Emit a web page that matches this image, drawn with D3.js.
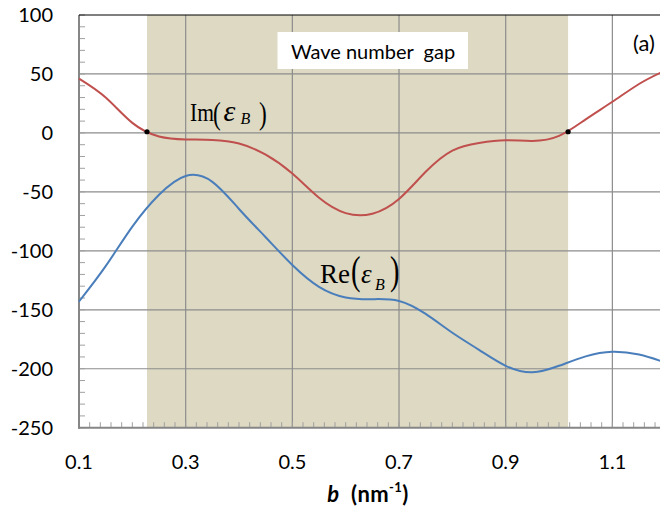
<!DOCTYPE html>
<html>
<head>
<meta charset="utf-8">
<script src="https://cdn.jsdelivr.net/npm/d3@7"></script>
<style>
  body { margin: 0; background: #fff; }
  svg { display: block; }
</style>
</head>
<body>
<svg id="chart" width="660" height="512"></svg>
<script>
// wave number b (nm^-1), sampled every 0.05
const bValues = [0.10, 0.15, 0.20, 0.25, 0.30, 0.35, 0.40, 0.45, 0.50, 0.55, 0.60, 0.65, 0.70, 0.75, 0.80, 0.85, 0.90, 0.95, 1.00, 1.05, 1.10, 1.15, 1.19];
// Im(eps_B)
const imEps = [46, 30, 8.5, -3, -5.5, -6, -9, -18.5, -34.5, -55, -68, -68.5, -56, -33, -15, -8.5, -6.2, -6.8, -2.5, 11.5, 26.4, 41.5, 51];
// Re(eps_B)
const reEps = [-143, -113, -79.5, -52.5, -36.5, -41.5, -64.5, -88.5, -112, -130.5, -139.5, -141, -142.5, -153.5, -169.5, -184, -197.5, -203, -197.5, -189.5, -185.6, -188, -193.3];

// edges of the wave number gap (where Im crosses zero)
const gapEdges = [0.2275, 1.017];
const gapEdgeIm = [1, 1];

const xTicks = [0.1, 0.3, 0.5, 0.7, 0.9, 1.1];
const xTickLabels = ["0.1", "0.3", "0.5", "0.7", "0.9", "1.1"];
const yTicks = [100, 50, 0, -50, -100, -150, -200, -250];
const yTickLabels = ["100", "50", "0", "-50", "-100", "-150", "-200", "-250"];

const svg = d3.select("#chart");
const W = 660, H = 512;
const plotLeft = 79, plotTop = 15, plotBottom = 427.7;

const x = d3.scaleLinear().domain([0.1, 1.2]).range([plotLeft, 665.7]);
const y = d3.scaleLinear().domain([-250, 100]).range([plotBottom, plotTop]);

const sans = "Lato, 'Open Sans', sans-serif";
const serif = "'Liberation Serif', 'DejaVu Serif', serif";

svg.append("rect").attr("width", W).attr("height", H).attr("fill", "#fff");

// shaded gap band
svg.append("rect")
  .attr("x", x(gapEdges[0])).attr("y", plotTop)
  .attr("width", x(gapEdges[1]) - x(gapEdges[0]))
  .attr("height", plotBottom - plotTop)
  .attr("fill", "#DDD9C3");

// major gridlines
const grid = svg.append("g").attr("stroke", "#8c8c8c").attr("stroke-width", 1.2);
grid.selectAll("line.h").data(yTicks.filter(v => v > -250 && v < 100)).join("line")
  .attr("class", "h")
  .attr("x1", plotLeft).attr("x2", W)
  .attr("y1", d => y(d)).attr("y2", d => y(d));
grid.selectAll("line.v").data(xTicks.filter(v => v > 0.1)).join("line")
  .attr("class", "v")
  .attr("y1", plotTop).attr("y2", plotBottom)
  .attr("x1", d => x(d)).attr("x2", d => x(d));

// minor ticks
const minorY = d3.range(-250, 101, 10);
const minorX = d3.range(0, 56).map(i => 0.1 + i * 0.02);
const minor = svg.append("g").attr("stroke", "#a0a0a0").attr("stroke-width", 1);
minor.selectAll("line.my").data(minorY).join("line")
  .attr("class", "my")
  .attr("x1", plotLeft).attr("x2", plotLeft + 6)
  .attr("y1", d => y(d)).attr("y2", d => y(d));
minor.selectAll("line.mx").data(minorX).join("line")
  .attr("class", "mx")
  .attr("y1", plotBottom).attr("y2", plotBottom - 5.5)
  .attr("x1", d => x(d)).attr("x2", d => x(d));

// axis lines and top border
svg.append("line").attr("x1", plotLeft).attr("x2", plotLeft).attr("y1", plotTop).attr("y2", plotBottom + 1)
  .attr("stroke", "#868686").attr("stroke-width", 2);
svg.append("line").attr("x1", plotLeft - 1).attr("x2", W).attr("y1", plotBottom).attr("y2", plotBottom)
  .attr("stroke", "#868686").attr("stroke-width", 2);
svg.append("line").attr("x1", plotLeft).attr("x2", W).attr("y1", plotTop).attr("y2", plotTop)
  .attr("stroke", "#000").attr("stroke-width", 1);

// smooth curves through the sampled values
const line = d3.line().curve(d3.curveNatural);
svg.append("path")
  .attr("d", line(bValues.map((b, i) => [x(b), y(imEps[i])])))
  .attr("fill", "none").attr("stroke", "#C0504D").attr("stroke-width", 2);
svg.append("path")
  .attr("d", line(bValues.map((b, i) => [x(b), y(reEps[i])])))
  .attr("fill", "none").attr("stroke", "#4A7EBB").attr("stroke-width", 2);

// gap edge markers
svg.selectAll("circle.edge").data(gapEdges).join("circle")
  .attr("class", "edge")
  .attr("cx", d => x(d)).attr("cy", (d, i) => y(gapEdgeIm[i]))
  .attr("r", 2.6).attr("fill", "#000");

// tick labels
svg.append("g").selectAll("text").data(yTicks).join("text")
  .attr("x", 53).attr("y", d => y(d)).attr("dy", "0.36em")
  .attr("text-anchor", "end")
  .attr("font-family", sans).attr("font-size", 20).attr("fill", "#000")
  .text((d, i) => yTickLabels[i]);
svg.append("g").selectAll("text").data(xTicks).join("text")
  .attr("x", d => x(d)).attr("y", 469)
  .attr("text-anchor", "middle")
  .attr("font-family", sans).attr("font-size", 20).attr("fill", "#000")
  .text((d, i) => xTickLabels[i]);

// axis title
const title = svg.append("text")
  .attr("x", 368).attr("y", 502)
  .attr("text-anchor", "middle")
  .attr("font-family", sans).attr("font-size", 22).attr("font-weight", "bold").attr("fill", "#000")
  .attr("letter-spacing", 0.4)
  .style("white-space", "pre");
title.append("tspan").attr("font-style", "italic").text("b");
title.append("tspan").text("  (nm");
title.append("tspan").attr("font-size", 13).attr("dy", -10).text("-1");
title.append("tspan").attr("dy", 10).text(")");

// gap label box
svg.append("rect").attr("x", 277.5).attr("y", 32).attr("width", 190.5).attr("height", 37).attr("fill", "#fff");
svg.append("text")
  .attr("x", 373).attr("y", 58.5).attr("text-anchor", "middle")
  .attr("font-family", sans).attr("font-size", 20).attr("fill", "#000")
  .style("white-space", "pre")
  .text("Wave number  gap");

// panel tag
svg.append("text").attr("x", 655).attr("y", 51).attr("text-anchor", "end")
  .attr("font-family", sans).attr("font-size", 22).attr("fill", "#000")
  .text("(a)");

// series labels: Im(eps_B) and Re(eps_B)
function seriesLabel(o) {
  const g = svg.append("g").attr("font-family", serif).attr("fill", "#000");
  g.append("text").attr("transform", `translate(${o.x},${o.base}) scale(${o.nameScale},1)`)
    .attr("font-size", o.nameSize).text(o.name);
  const px = o.parenX;
  g.append("text").attr("transform", `translate(${px},${o.base + o.parenDy}) scale(0.75,1.05)`)
    .attr("font-size", o.parenSize).text("(");
  g.append("text").attr("x", px + o.epsDx).attr("y", o.base).attr("font-size", o.epsSize)
    .attr("font-style", "italic").text("ε");
  g.append("text").attr("x", px + o.subDx).attr("y", o.base + o.subDy).attr("font-size", o.subSize)
    .attr("font-style", "italic").text("B");
  g.append("text").attr("transform", `translate(${px + o.closeDx},${o.base + o.parenDy}) scale(0.75,1.05)`)
    .attr("font-size", o.parenSize).text(")");
}
seriesLabel({ name: "Im", x: 190, base: 120.5, nameSize: 25, nameScale: 0.86,
  parenX: 213, parenSize: 31, parenDy: 3.2, epsDx: 10.5, epsSize: 30,
  subDx: 27.5, subDy: 3.6, subSize: 16, closeDx: 46 });
seriesLabel({ name: "Re", x: 320, base: 283.3, nameSize: 27, nameScale: 1,
  parenX: 351, parenSize: 38, parenDy: 1, epsDx: 10, epsSize: 27,
  subDx: 24, subDy: 6.5, subSize: 16, closeDx: 39 });
</script>
</body>
</html>
